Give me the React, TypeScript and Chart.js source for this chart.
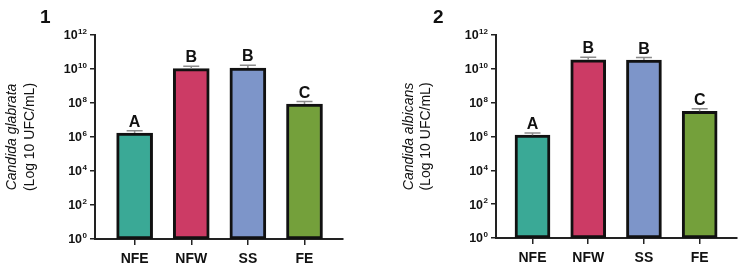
import React, { useEffect, useRef } from "react";
import { Chart, registerables } from "chart.js";

Chart.register(...registerables);

const categories = ["NFE", "NFW", "SS", "FE"];
const barColors = ["#3aa996", "#cc3b65", "#7d95c9", "#74a03b"];

const glabrataValues = [1.7e6, 1.05e10, 1.15e10, 8.7e7];
const glabrataErrors = [0.6e6, 0.4e10, 0.5e10, 0.35e8];
const glabrataLetters = ["A", "B", "B", "C"];

const albicansValues = [1.2e6, 3.4e10, 3.3e10, 3.1e7];
const albicansErrors = [0.4e6, 1.4e10, 1.3e10, 1.2e7];
const albicansLetters = ["A", "B", "B", "C"];

const yTickExponents = [0, 2, 4, 6, 8, 10, 12];

const FONT = "'Liberation Sans', Arial, sans-serif";

type PanelProps = {
  panelLabel: string;
  speciesName: string;
  values: number[];
  errors: number[];
  letters: string[];
  yAxisWidth: number;
  rightPad: number;
  xMin: number;
  xMax: number;
  xAxisHeight: number;
  labelX: number;
  titleX1: number;
  titleX2: number;
  barWidth: number;
};

function Panel(p: PanelProps) {
  const ref = useRef<HTMLCanvasElement | null>(null);
  useEffect(() => {
    if (!ref.current) return;
    const decor = {
      id: "decor",
      afterDatasetsDraw(chart: any) {
        const ctx = chart.ctx;
        const xs = chart.scales.x;
        const ys = chart.scales.y;
        ctx.save();
        p.values.forEach((v, i) => {
          const cx = xs.getPixelForValue(i);
          const top = ys.getPixelForValue(v);
          const up = ys.getPixelForValue(v + p.errors[i]);
          ctx.strokeStyle = "#8c8c8c";
          ctx.lineWidth = 1.5;
          ctx.beginPath();
          ctx.moveTo(cx, top);
          ctx.lineTo(cx, up);
          ctx.moveTo(cx - 8, up);
          ctx.lineTo(cx + 8, up);
          ctx.stroke();
          ctx.fillStyle = "#111";
          ctx.font = `bold 16px ${FONT}`;
          ctx.textAlign = "center";
          ctx.textBaseline = "alphabetic";
          ctx.fillText(p.letters[i], cx, up - 4);
        });
        ctx.restore();
      },
      afterDraw(chart: any) {
        const ctx = chart.ctx;
        const ys = chart.scales.y;
        const area = chart.chartArea;
        ctx.save();
        ctx.fillStyle = "#111";
        ctx.textBaseline = "middle";
        ctx.textAlign = "left";
        ys.ticks.forEach((t: any) => {
          const exp = String(Math.round(Math.log10(t.value)));
          const y = ys.getPixelForValue(t.value);
          ctx.font = `bold 8px ${FONT}`;
          const ew = ctx.measureText(exp).width;
          ctx.font = `bold 12.5px ${FONT}`;
          const bw = ctx.measureText("10").width;
          const right = area.left - 8;
          ctx.fillText("10", right - ew - bw - 0.5, y + 1);
          ctx.font = `bold 8px ${FONT}`;
          ctx.fillText(exp, right - ew, y - 3);
        });
        const cy = (area.top + area.bottom) / 2;
        ctx.textAlign = "center";
        ctx.textBaseline = "middle";
        ctx.save();
        ctx.translate(p.titleX1, cy);
        ctx.rotate(-Math.PI / 2);
        ctx.font = `italic 14px ${FONT}`;
        ctx.fillText(p.speciesName, 0, 0);
        ctx.restore();
        ctx.save();
        ctx.translate(p.titleX2, cy);
        ctx.rotate(-Math.PI / 2);
        ctx.font = `14px ${FONT}`;
        ctx.fillText("(Log 10 UFC/mL)", 0, 0);
        ctx.restore();
        ctx.textAlign = "left";
        ctx.textBaseline = "alphabetic";
        ctx.font = `bold 19px ${FONT}`;
        ctx.fillText(p.panelLabel, p.labelX, 23);
        ctx.restore();
      },
    };

    const chart = new Chart(ref.current, {
      type: "bar",
      data: {
        datasets: [
          {
            data: p.values.map((v, i) => ({ x: i, y: v })),
            backgroundColor: barColors,
            borderColor: "#111",
            borderWidth: 3,
            borderSkipped: false,
            barThickness: p.barWidth,
          },
        ],
      },
      options: {
        animation: false,
        responsive: false,
        devicePixelRatio: 1,
        layout: { padding: { top: 35, right: p.rightPad, bottom: 0, left: 0 } },
        plugins: { legend: { display: false }, tooltip: { enabled: false } },
        scales: {
          x: {
            type: "linear",
            offset: false,
            min: p.xMin,
            max: p.xMax,
            afterBuildTicks: (s: any) => {
              s.ticks = categories.map((_, i) => ({ value: i }));
            },
            afterFit: (s: any) => {
              s.height = p.xAxisHeight;
            },
            ticks: {
              callback: (v: any) => categories[Math.round(Number(v))] ?? "",
              font: { family: FONT, size: 14, weight: "bold" },
              color: "#111",
              padding: 6,
              maxRotation: 0,
              autoSkip: false,
            },
            grid: {
              offset: false,
              drawOnChartArea: false,
              drawTicks: true,
              tickLength: 6,
              color: "#222",
              lineWidth: 1.5,
            },
            border: { display: true, color: "#222", width: 2 },
          },
          y: {
            type: "logarithmic",
            min: 1,
            max: 1e12,
            afterBuildTicks: (s: any) => {
              s.ticks = yTickExponents.map((e) => ({ value: Math.pow(10, e) }));
            },
            afterFit: (s: any) => {
              s.width = p.yAxisWidth;
            },
            ticks: { display: false },
            grid: {
              drawOnChartArea: false,
              drawTicks: true,
              tickLength: 5,
              color: "#222",
              lineWidth: 1.5,
            },
            border: { display: true, color: "#222", width: 2 },
          },
        },
      },
      plugins: [decor],
    } as any);
    return () => chart.destroy();
  }, []);
  return <canvas ref={ref} width={370} height={270} style={{ display: "block", width: 370, height: 270 }} />;
}

export default function App() {
  return (
    <div style={{ position: "absolute", left: 0, top: 0, width: 740, height: 270, background: "#fff", display: "flex" }}>
      <Panel
        panelLabel="1"
        speciesName="Candida glabrata"
        values={glabrataValues}
        errors={glabrataErrors}
        letters={glabrataLetters}
        yAxisWidth={95}
        rightPad={27}
        xMin={-0.7}
        xMax={3.68}
        xAxisHeight={31}
        labelX={40}
        titleX1={12}
        titleX2={30}
        barWidth={36}
      />
      <Panel
        panelLabel="2"
        speciesName="Candida albicans"
        values={albicansValues}
        errors={albicansErrors}
        letters={albicansLetters}
        yAxisWidth={126}
        rightPad={3}
        xMin={-0.655}
        xMax={3.67}
        xAxisHeight={32}
        labelX={63}
        titleX1={39}
        titleX2={56}
        barWidth={35}
      />
    </div>
  );
}
